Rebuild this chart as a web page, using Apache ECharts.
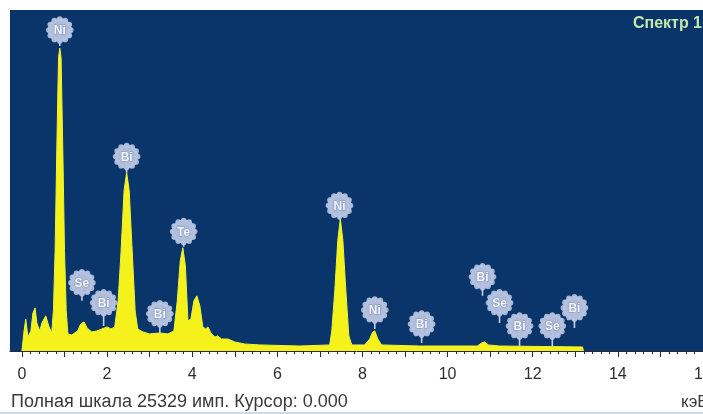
<!DOCTYPE html>
<html><head><meta charset="utf-8">
<script src="https://cdn.jsdelivr.net/npm/echarts@6/dist/echarts.min.js"></script>
<style>html,body{margin:0;padding:0;background:#fff}#c{width:703px;height:414px}</style>
</head><body><div id="c"></div>
<script>
// Spectrum: energy (keV) and counts (имп.)
const energyKeV = [0.00,0.05,0.09,0.14,0.21,0.26,0.31,0.35,0.42,0.47,0.56,0.63,0.70,0.74,0.78,0.82,0.86,0.89,0.92,0.96,1.00,1.04,1.08,1.17,1.31,1.38,1.46,1.53,1.64,1.76,1.88,2.00,2.09,2.18,2.26,2.33,2.40,2.46,2.52,2.59,2.66,2.72,2.84,3.00,3.24,3.43,3.57,3.65,3.72,3.78,3.84,3.90,3.97,4.04,4.11,4.18,4.25,4.32,4.37,4.44,4.53,4.60,4.69,4.84,5.00,5.23,5.59,6.53,7.23,7.28,7.35,7.42,7.48,7.54,7.61,7.68,7.75,8.05,8.17,8.24,8.29,8.36,8.45,9.34,10.70,10.80,10.87,10.96,11.22,13.17,13.19];
const counts    = [0,1490,2380,1040,1490,2830,3200,2090,1490,2090,2610,1860,1340,3000,7450,15000,21800,22500,21800,15000,7450,3000,1270,1190,1490,2010,2160,1710,1420,1490,1640,1790,1640,1790,3730,7450,11920,13260,11920,7450,2980,1640,1420,1270,1340,1270,1490,3730,6710,7670,6330,2240,2380,3730,4100,3350,1790,1640,1790,1340,1040,1120,890,890,670,520,450,370,450,1490,4470,8200,9830,8200,4470,1120,450,450,890,1420,1490,890,450,370,370,600,670,450,370,300,0];

// Element markers
const markElements     = ['Ni','Se','Bi','Bi','Bi','Te','Ni','Ni','Bi','Bi','Se','Bi','Se','Bi'];
const markKeV          = [0.89,1.41,1.92,2.46,3.24,3.80,7.46,8.29,9.39,10.82,11.22,11.69,12.46,12.98];
const markBubbleCounts = [23840,5070,3580,14450,2760,8870,10800,3050,2010,5510,3580,1860,1860,3200];
const markStemCounts   = [22650,3730,1860,13260,1340,7750,9760,1640,600,4100,2090,370,370,1710];

const tickLabels = [0,2,4,6,8,10,12,14,16];
const fullScale = 25329;
const xMin = -0.28, xMax = 16;

const minorTicks = [];
for (let v = 0; v <= 16.001; v += 0.2) minorTicks.push(+v.toFixed(1));
const majorTicks = [];
for (let v = 0; v <= 16; v += 1) majorTicks.push(v);

const FONT = '"Liberation Sans", Arial, sans-serif';
const chart = echarts.init(document.getElementById('c'), null, {renderer:'canvas'});

chart.setOption({
  animation: false,
  grid: {left: 10, right: 0, top: 10, bottom: 63, show: true, backgroundColor: '#0a356b', borderWidth: 0,
         containLabel: false, outerBoundsMode: 'none'},
  xAxis: [{
    type: 'value', min: xMin, max: xMax,
    splitLine: {show: false},
    axisLine: {show: true, onZero: false, lineStyle: {color: '#2a2a2a', width: 1}},
    axisTick: {show: true, customValues: minorTicks, length: 3, lineStyle: {color: '#2a2a2a'}},
    axisLabel: {show: true, customValues: tickLabels, color: '#2e2e2e', fontSize: 16, fontFamily: FONT, margin: 16,
                showMinLabel: true, showMaxLabel: true, hideOverlap: false}
  }, {
    type: 'value', min: xMin, max: xMax, position: 'bottom',
    splitLine: {show: false},
    axisLine: {show: false},
    axisTick: {show: true, customValues: majorTicks, length: 6, lineStyle: {color: '#2a2a2a'}},
    axisLabel: {show: false}
  }],
  yAxis: {type: 'value', min: 0, max: fullScale, show: false, splitLine: {show: false}},
  series: [{
    type: 'line',
    data: energyKeV.map((e, i) => [e, counts[i]]),
    showSymbol: false,
    symbol: 'none',
    lineStyle: {color: '#eef23c', width: 1},
    areaStyle: {color: '#f4f21a', opacity: 1},
    z: 2
  }, {
    type: 'custom',
    data: markKeV.map((k, i) => [k, markBubbleCounts[i], markStemCounts[i], i]),
    encode: {x: 0, y: [1, 2]},
    z: 5,
    renderItem: function (params, api) {
      const c = api.coord([api.value(0), api.value(1)]);
      const s = api.coord([api.value(0), api.value(2)]);
      const name = markElements[api.value(3)];
      const children = [
        {type: 'line', shape: {x1: c[0], y1: c[1], x2: s[0], y2: s[1]}, style: {stroke: '#c6d0e4', lineWidth: 1.6}}
      ];
      for (let a = 0; a < 12; a++) {
        const ang = a * Math.PI / 6;
        children.push({type: 'circle', shape: {cx: c[0] + 11 * Math.cos(ang), cy: c[1] + 11 * Math.sin(ang), r: 2.8},
          style: {fill: 'rgba(192,204,228,0.85)'}});
      }
      children.push({type: 'circle', shape: {cx: c[0], cy: c[1], r: 12}, style: {fill: 'rgba(180,194,223,0.96)'}});
      children.push({type: 'text', style: {text: name, x: c[0], y: c[1] + 1, align: 'center', verticalAlign: 'middle',
        fill: '#f2f5fb', font: 'bold 12px ' + FONT, stroke: 'rgba(110,125,160,0.6)', lineWidth: 1}});
      return {type: 'group', children: children};
    }
  }],
  graphic: [
    {type: 'text', right: 1, top: 16, style: {text: 'Спектр 1', fill: '#c4e8aa', font: 'bold 16px ' + FONT}},
    {type: 'text', left: 11, top: 393, style: {text: 'Полная шкала 25329 имп. Курсор: 0.000', fill: '#3a3a3a', font: '18px ' + FONT}},
    {type: 'text', left: 681, top: 394, style: {text: 'кэВ', fill: '#3a3a3a', font: '17px ' + FONT}},
    {type: 'rect', left: 0, top: 412, shape: {width: 703, height: 2}, style: {fill: '#cfd9e4'}}
  ]
});
</script></body></html>
